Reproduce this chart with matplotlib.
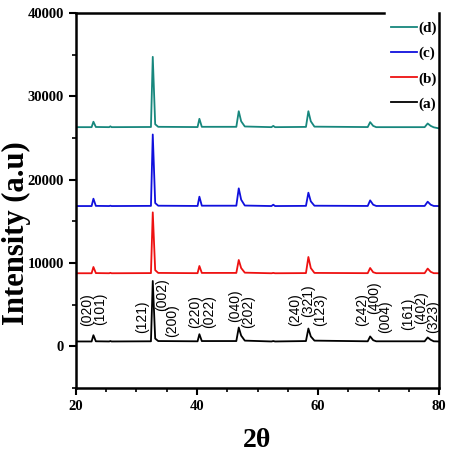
import matplotlib
matplotlib.use("Agg")
import matplotlib.pyplot as plt
from matplotlib.ticker import MultipleLocator

# shared 2-theta sample points (peak flanks and tops)
two_theta = [20, 22.6, 22.9, 23.3, 25.5, 25.7, 25.9, 32.4, 32.7, 33.1, 33.6,
             40.1, 40.4, 40.8, 46.5, 46.9, 47.3, 47.9, 52.3, 52.6, 52.9,
             58.0, 58.4, 58.8, 59.4, 68.2, 68.6, 69.1, 69.6, 77.6, 78.1, 78.6, 79.1, 80]

intensity_a = [600, 600, 1350, 620, 600, 650, 600, 620, 7850, 950, 650,
               620, 1470, 650, 650, 2270, 1300, 700, 600, 650, 600,
               650, 2150, 1200, 700, 620, 1200, 750, 620, 620, 1080, 800, 620, 600]
intensity_b = [8780, 8780, 9530, 8800, 8780, 8830, 8780, 8800, 16080, 9150, 8820,
               8790, 9650, 8820, 8820, 10370, 9400, 8850, 8780, 8820, 8780,
               8800, 10730, 9400, 8820, 8790, 9410, 8900, 8790, 8790, 9340, 8950, 8790, 8780]
intensity_c = [16840, 16840, 17720, 16860, 16840, 16880, 16840, 16860, 25420, 17200, 16880,
               16850, 17960, 16880, 16880, 18960, 17600, 16900, 16840, 17000, 16840,
               16860, 18440, 17400, 16880, 16850, 17520, 17000, 16850, 16850, 17360, 17000, 16850, 16840]
intensity_d = [26300, 26300, 26950, 26320, 26300, 26400, 26300, 26320, 34730, 26650, 26340,
               26310, 27300, 26340, 26340, 28210, 27000, 26380, 26300, 26450, 26300,
               26330, 28210, 27000, 26360, 26310, 26900, 26450, 26300, 26300, 26740, 26450, 26280, 26150]

series_labels = ["(a)", "(b)", "(c)", "(d)"]
series_colors = ["#000000", "#ee1111", "#1010dd", "#17877d"]

# Miller indices of the reflections and where their labels sit
hkl_labels = ["(020)", "(101)", "(121)", "(002)", "(200)", "(220)", "(022)", "(040)", "(202)",
              "(240)", "(321)", "(123)", "(242)", "(400)", "(004)", "(161)", "(402)", "(323)"]
hkl_x = [21.9, 24.0, 30.9, 34.3, 35.9, 39.7, 42.0, 46.3, 48.4,
         56.2, 58.4, 60.4, 67.2, 69.2, 71.0, 74.8, 77.0, 79.0]
hkl_y = [4470, 4470, 3570, 6200, 3150, 4170, 4170, 4950, 4170,
         4410, 5540, 4410, 4410, 5840, 3630, 3870, 4710, 3570]

fig = plt.figure(figsize=(4.57, 4.61), dpi=100)
ax = fig.add_axes([0.166, 0.158, 0.795, 0.814])

all_series = [intensity_a, intensity_b, intensity_c, intensity_d]
lines = []
for values, label, color in zip(all_series, series_labels, series_colors):
    (ln,) = ax.plot(two_theta, values, color=color, lw=1.3, label=label)
    lines.append(ln)

for text, x, y in zip(hkl_labels, hkl_x, hkl_y):
    ax.text(x, y, text, rotation=90, ha="center", va="center",
            fontsize=10, family="Liberation Sans")

ax.set_xlim(20, 80)
ax.set_ylim(-5000, 40000)
ax.xaxis.set_major_locator(MultipleLocator(20))
ax.xaxis.set_minor_locator(MultipleLocator(5))
ax.yaxis.set_major_locator(MultipleLocator(10000))
ax.yaxis.set_minor_locator(MultipleLocator(5000))
ax.tick_params(which="major", direction="out", length=5, width=1.5)
ax.tick_params(which="minor", direction="out", length=3, width=1.2)
for lab in ax.get_xticklabels() + ax.get_yticklabels():
    lab.set_family("Liberation Serif")
    lab.set_fontweight("bold")
    lab.set_fontsize(10.5)
for sp in ax.spines.values():
    sp.set_linewidth(1.8)
# the legend sits over the top frame in the original
ax.spines["top"].set_bounds(20, 70.9)

ax.set_xlabel("2θ", family="Liberation Serif", fontweight="bold", fontsize=20)
ax.xaxis.set_label_coords(0.5, -0.107)
ax.set_ylabel("Intensity (a.u)", family="Liberation Serif", fontweight="bold", fontsize=22)
ax.yaxis.set_label_coords(-0.123, 0.413)

leg = ax.legend(lines[::-1], series_labels[::-1], loc="upper right",
                bbox_to_anchor=(0.995, 0.978), frameon=False,
                handlelength=1.7, handletextpad=0.15,
                labelspacing=0.75, borderaxespad=0, borderpad=0,
                prop={"family": "Liberation Serif", "weight": "bold", "size": 11})

fig.savefig("out.png", dpi=100)
